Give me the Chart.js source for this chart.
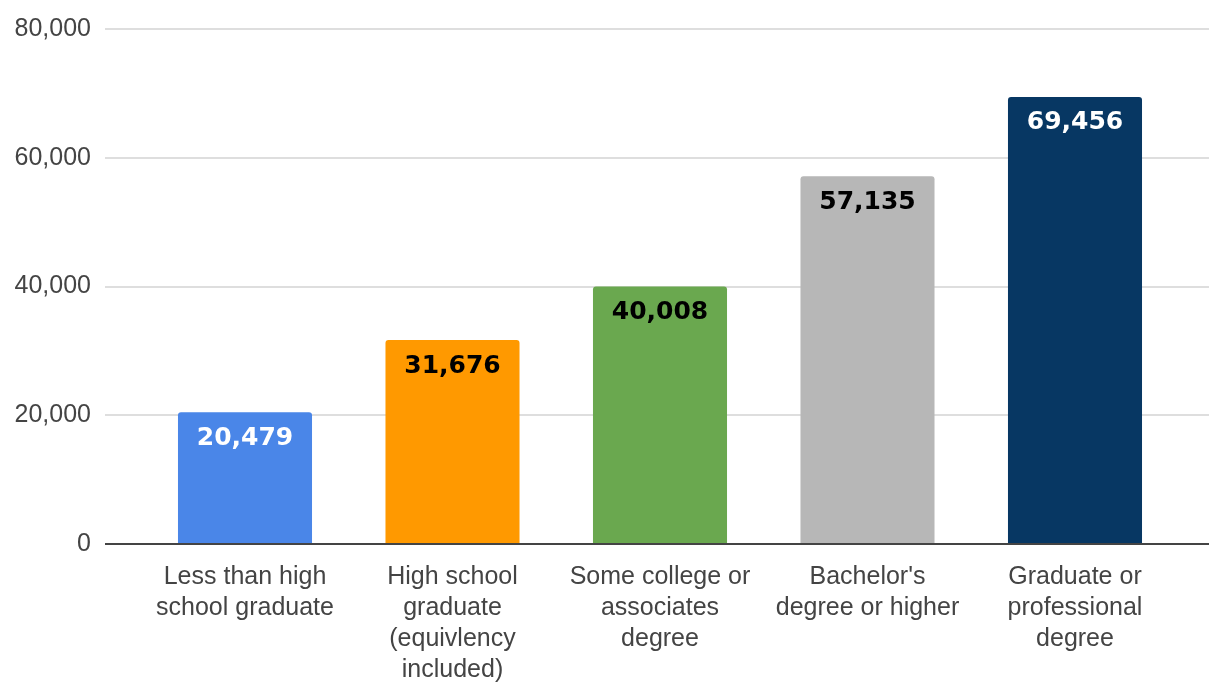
<!DOCTYPE html>
<html>
<head>
<meta charset="utf-8">
<script src="https://cdn.jsdelivr.net/npm/chart.js@4/dist/chart.umd.min.js"></script>
<style>
  html, body { margin: 0; padding: 0; background: #ffffff; }
  #wrap { width: 1209px; height: 683px; }
</style>
</head>
<body>
<div id="wrap"><canvas id="c" width="1209" height="683"></canvas></div>
<script>
const categories = [
  ["Less than high", "school graduate"],
  ["High school", "graduate", "(equivlency", "included)"],
  ["Some college or", "associates", "degree"],
  ["Bachelor's", "degree or higher"],
  ["Graduate or", "professional", "degree"]
];
const incomeValues = [20479, 31676, 40008, 57135, 69456];
const valueLabels = ["20,479", "31,676", "40,008", "57,135", "69,456"];
const barColors = ["#4a86e8", "#ff9900", "#6aa84f", "#b7b7b7", "#073763"];
const labelColors = ["#ffffff", "#000000", "#000000", "#000000", "#ffffff"];
const yTicks = [0, 20000, 40000, 60000, 80000];

const barLabelPlugin = {
  id: 'barLabels',
  afterDatasetsDraw(chart) {
    const ctx = chart.ctx;
    const meta = chart.getDatasetMeta(0);
    ctx.save();
    ctx.font = 'bold 25px "DejaVu Sans", Verdana, sans-serif';
    ctx.textAlign = 'center';
    ctx.textBaseline = 'middle';
    meta.data.forEach((el, i) => {
      ctx.fillStyle = labelColors[i];
      ctx.fillText(valueLabels[i], el.x, el.y + 26);
    });
    ctx.restore();
  }
};

new Chart(document.getElementById('c'), {
  type: 'bar',
  data: {
    datasets: [{
      data: incomeValues.map((v, i) => ({ x: i, y: v })),
      backgroundColor: barColors,
      borderRadius: { topLeft: 3, topRight: 3, bottomLeft: 0, bottomRight: 0 },
      borderSkipped: false,
      barPercentage: 0.646,
      categoryPercentage: 1.0
    }]
  },
  plugins: [barLabelPlugin],
  options: {
    responsive: false,
    animation: false,
    layout: { autoPadding: false, padding: { top: 29, left: 0, right: 0, bottom: 0 } },
    plugins: { legend: { display: false }, tooltip: { enabled: false } },
    scales: {
      x: {
        type: 'linear',
        offset: false,
        min: -0.6747,
        max: 4.6458,
        afterBuildTicks: axis => { axis.ticks = categories.map((_, i) => ({ value: i })); },
        afterFit: axis => { axis.height = 139; },
        grid: { display: false, drawTicks: false },
        border: { display: false },
        ticks: {
          autoSkip: false,
          maxRotation: 0,
          minRotation: 0,
          padding: 18,
          color: '#444444',
          font: { family: '"Liberation Sans", Arial, sans-serif', size: 25, lineHeight: 1.23 },
          callback: (value, index) => categories[index]
        }
      },
      y: {
        min: 0,
        max: 80000,
        afterBuildTicks: axis => { axis.ticks = yTicks.map(v => ({ value: v })); },
        afterFit: axis => { axis.width = 105; },
        grid: {
          drawTicks: false,
          color: c => (c.tick && c.tick.value === 0) ? '#444444' : '#dedede',
          lineWidth: 2
        },
        border: { display: false },
        ticks: {
          padding: 14,
          color: '#444444',
          font: { family: '"Liberation Sans", Arial, sans-serif', size: 25 },
          callback: v => v.toLocaleString('en-US')
        }
      }
    }
  }
});
</script>
</body>
</html>
